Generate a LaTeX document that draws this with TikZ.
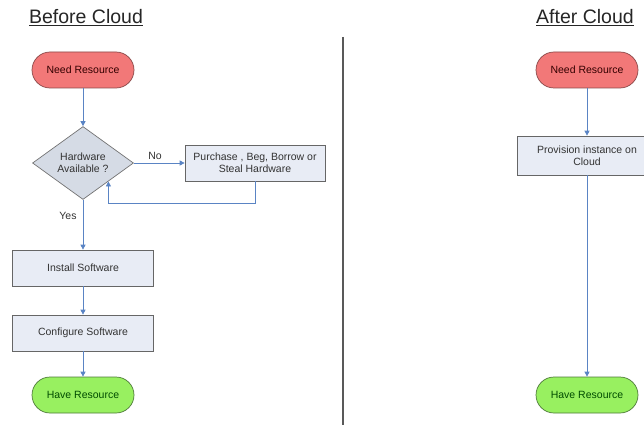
\documentclass[tikz,border=0pt]{standalone}
\usepackage{fontspec}
\setmainfont{Liberation Sans}
\usetikzlibrary{arrows.meta,shapes.geometric}
\definecolor{flowblue}{HTML}{5A84C4}
\definecolor{needfill}{HTML}{F27878}
\definecolor{needline}{HTML}{8A4848}
\definecolor{havefill}{HTML}{98F060}
\definecolor{haveline}{HTML}{4E7A3A}
\definecolor{boxfill}{HTML}{E8ECF5}
\definecolor{diafill}{HTML}{D5DBE5}
\tikzset{
  flow/.style={draw=flowblue, line width=0.8pt, -{Triangle[width=5pt,length=5pt]}},
  startend/.style={rounded corners=18pt, minimum width=102pt, minimum height=36pt, line width=0.7pt, font=\fontsize{10.5}{12}\selectfont},
  needbox/.style={startend, draw=needline, fill=needfill, text=black!80!red},
  havebox/.style={startend, draw=haveline, fill=havefill, text=black!70!green},
  stepbox/.style={draw=black!60, fill=boxfill, line width=0.7pt, minimum height=36pt, inner sep=2pt, align=center, font=\fontsize{10.5}{12}\selectfont, text=black!80},
  decision/.style={diamond, draw=black!55, fill=diafill, line width=0.7pt, minimum width=101pt, minimum height=73pt, inner sep=0pt, aspect=1.38, align=center, font=\fontsize{10.5}{12}\selectfont, text=black!80},
  heading/.style={font=\fontsize{19.5}{22}\selectfont, text=black!85},
  tag/.style={font=\fontsize{10.5}{12}\selectfont, text=black!80}
}
\begin{document}
\begin{tikzpicture}[x=1pt, y=-1pt]
  \useasboundingbox (0,0) rectangle (644,425);
  %%%%% BEFORE %%%%%
  \node[heading] (titlebefore) at (86,18) {\underline{Before Cloud}};
  \node[needbox] (needA) at (83,70) {Need Resource};
  \node[decision] (hw) at (83,163) {Hardware\\Available ?};
  \node[stepbox, minimum width=140pt] (buy) at (255,163) {Purchase , Beg, Borrow or\\Steal Hardware};
  \node[stepbox, minimum width=141pt] (install) at (83,268) {Install Software};
  \node[stepbox, minimum width=141pt] (config) at (83,333) {Configure Software};
  \node[havebox] (haveA) at (83,395) {Have Resource};
  \node[tag] (no) at (155,156) {No};
  \node[tag] (yes) at (68,216) {Yes};

  \draw[flow] (needA) -- (hw);
  \draw[flow] (hw) -- (buy);
  \draw[flow] (buy.south) -- ++(0,22) -| (hw.south east);
  \draw[flow] (hw) -- (install);
  \draw[flow] (install) -- (config);
  \draw[flow] (config) -- (haveA);

  %%%%% DIVIDER %%%%%
  \draw[line width=1.8pt, black!65] (343,37) -- (343,425);

  %%%%% AFTER %%%%%
  \node[heading] (titleafter) at (585,18) {\underline{After Cloud}};
  \node[needbox] (needB) at (587,70) {Need Resource};
  \node[stepbox, minimum width=140pt, minimum height=39pt] (prov) at (587,155.5) {Provision instance on\\Cloud};
  \node[havebox] (haveB) at (587,395) {Have Resource};

  \draw[flow] (needB) -- (prov);
  \draw[flow] (prov) -- (haveB);
\end{tikzpicture}
\end{document}
